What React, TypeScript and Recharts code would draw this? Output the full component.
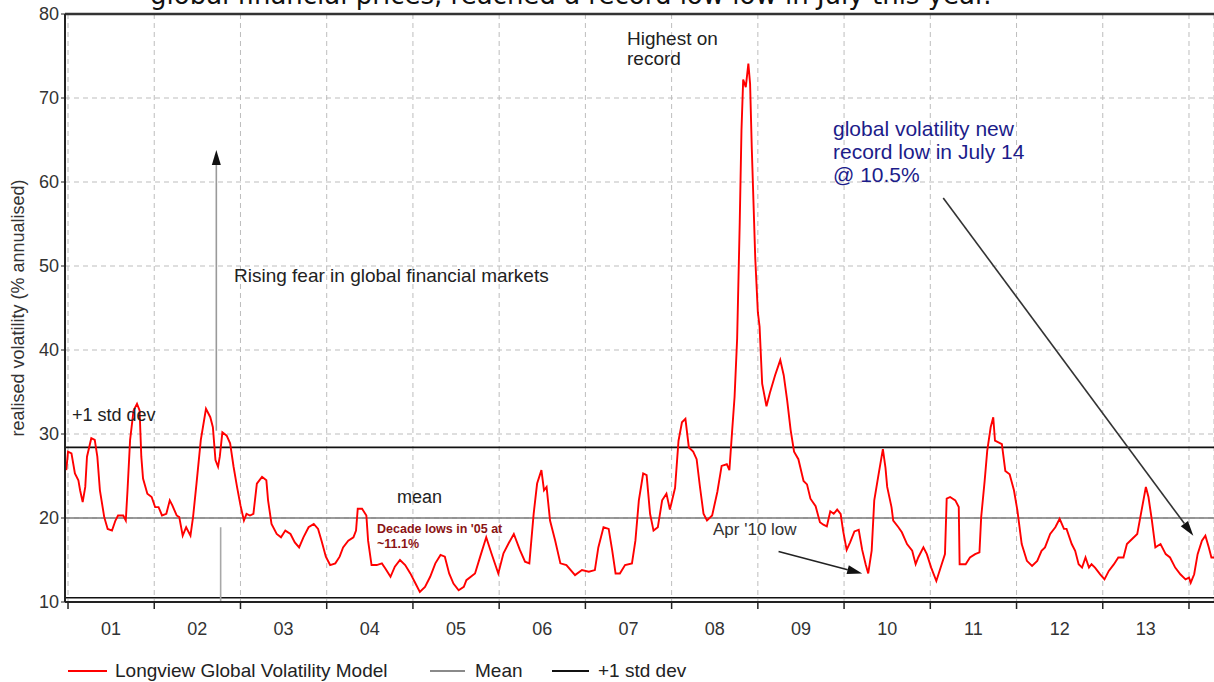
import React from "react";
import { LineChart, Line, XAxis, YAxis, CartesianGrid, ReferenceLine } from "recharts";

// decimal year of each reading
const dates = [
  2000.98, 2001.0, 2001.04, 2001.08, 2001.12, 2001.14, 2001.17, 2001.2, 2001.22, 2001.27, 2001.31, 2001.34,
  2001.37, 2001.42, 2001.46, 2001.51, 2001.55, 2001.58, 2001.64, 2001.67, 2001.69, 2001.72, 2001.76, 2001.8,
  2001.83, 2001.85, 2001.87, 2001.92, 2001.97, 2002.01, 2002.05, 2002.09, 2002.14, 2002.18, 2002.21, 2002.26,
  2002.29, 2002.33, 2002.37, 2002.42, 2002.45, 2002.49, 2002.54, 2002.6, 2002.65, 2002.68, 2002.71, 2002.74,
  2002.76, 2002.79, 2002.84, 2002.88, 2002.92, 2002.96, 2003.0, 2003.04, 2003.07, 2003.11, 2003.15, 2003.19,
  2003.25, 2003.3, 2003.32, 2003.36, 2003.42, 2003.47, 2003.52, 2003.58, 2003.63, 2003.68, 2003.73, 2003.79,
  2003.85, 2003.9, 2003.94, 2003.99, 2004.04, 2004.1, 2004.15, 2004.19, 2004.25, 2004.31, 2004.34, 2004.36,
  2004.41, 2004.46, 2004.48, 2004.52, 2004.58, 2004.64, 2004.68, 2004.74, 2004.79, 2004.85, 2004.91, 2004.97,
  2005.03, 2005.08, 2005.14, 2005.2, 2005.26, 2005.32, 2005.37, 2005.42, 2005.47, 2005.53, 2005.59, 2005.62,
  2005.72, 2005.78, 2005.85, 2005.91, 2005.99, 2006.05, 2006.11, 2006.17, 2006.24, 2006.3, 2006.35, 2006.4,
  2006.44, 2006.49, 2006.52, 2006.55, 2006.59, 2006.65, 2006.71, 2006.78, 2006.88, 2006.96, 2007.04, 2007.11,
  2007.15, 2007.21, 2007.27, 2007.31, 2007.35, 2007.4, 2007.46, 2007.54, 2007.58, 2007.62, 2007.67, 2007.71,
  2007.75, 2007.79, 2007.84, 2007.89, 2007.94, 2007.98, 2008.04, 2008.08, 2008.12, 2008.16, 2008.2, 2008.25,
  2008.29, 2008.33, 2008.37, 2008.41, 2008.47, 2008.53, 2008.58, 2008.64, 2008.67, 2008.7, 2008.73, 2008.76,
  2008.79, 2008.81, 2008.83, 2008.86, 2008.89, 2008.91, 2008.93, 2008.97, 2009.0, 2009.02, 2009.05, 2009.1,
  2009.14, 2009.2, 2009.26, 2009.3, 2009.34, 2009.38, 2009.42, 2009.47, 2009.53, 2009.57, 2009.61, 2009.67,
  2009.72, 2009.76, 2009.8, 2009.84, 2009.88, 2009.92, 2009.96, 2009.99, 2010.03, 2010.07, 2010.12, 2010.17,
  2010.21, 2010.25, 2010.28, 2010.32, 2010.35, 2010.4, 2010.45, 2010.48, 2010.5, 2010.55, 2010.57, 2010.63,
  2010.67, 2010.73, 2010.79, 2010.83, 2010.86, 2010.92, 2010.96, 2011.01, 2011.07, 2011.12, 2011.17, 2011.19,
  2011.23, 2011.29, 2011.33, 2011.34, 2011.41, 2011.46, 2011.52, 2011.57, 2011.59, 2011.63, 2011.66, 2011.7,
  2011.73, 2011.75, 2011.79, 2011.83, 2011.87, 2011.92, 2011.97, 2012.01, 2012.06, 2012.12, 2012.18, 2012.24,
  2012.29, 2012.33, 2012.39, 2012.45, 2012.5, 2012.55, 2012.58, 2012.64, 2012.68, 2012.72, 2012.76, 2012.8,
  2012.84, 2012.87, 2012.91, 2012.97, 2013.02, 2013.07, 2013.13, 2013.18, 2013.24, 2013.28, 2013.34, 2013.4,
  2013.45, 2013.5, 2013.53, 2013.57, 2013.61, 2013.67, 2013.73, 2013.78, 2013.84, 2013.9, 2013.96, 2014.0,
  2014.02, 2014.06, 2014.1, 2014.15, 2014.19, 2014.23, 2014.26, 2014.29,
];

// realised volatility, % annualised
const vol = [
  25.7, 27.9, 27.7, 25.3, 24.5, 23.3, 21.9, 23.7, 27.3, 29.5, 29.3, 27.3,
  23.3, 20.1, 18.7, 18.5, 19.7, 20.3, 20.3, 19.7, 23.3, 29.3, 32.8, 33.6,
  32.8, 27.3, 24.7, 22.9, 22.5, 21.3, 21.3, 20.3, 20.5, 22.1, 21.5, 20.3,
  20.1, 17.9, 18.9, 17.9, 20.1, 24.1, 29.3, 33.0, 32.0, 30.8, 26.9, 26.1,
  27.3, 30.2, 29.8, 28.9, 26.1, 23.7, 21.5, 19.7, 20.5, 20.3, 20.5, 24.1,
  24.9, 24.5, 22.1, 19.3, 18.1, 17.7, 18.5, 18.1, 17.1, 16.5, 17.7, 18.9,
  19.3, 18.7, 17.3, 15.4, 14.4, 14.6, 15.4, 16.5, 17.3, 17.7, 18.5, 21.1,
  21.1, 20.3, 17.3, 14.4, 14.4, 14.6, 14.0, 13.0, 14.2, 15.0, 14.4, 13.4,
  12.2, 11.2, 11.8, 13.0, 14.6, 15.6, 15.4, 13.4, 12.2, 11.4, 11.8, 12.6,
  13.4, 15.4, 17.7, 15.8, 13.4, 15.8, 17.0, 18.1, 16.2, 14.8, 14.6, 20.5,
  24.1, 25.7, 23.3, 23.7, 19.7, 17.3, 14.6, 14.4, 13.2, 13.8, 13.6, 13.8,
  16.5, 18.9, 18.7, 16.2, 13.4, 13.4, 14.4, 14.6, 17.3, 22.1, 25.3, 25.1,
  20.5, 18.5, 18.9, 22.1, 22.9, 21.0, 23.6, 29.2, 31.4, 31.8, 28.4, 27.9,
  27.0, 23.6, 20.5, 19.7, 20.3, 23.1, 26.2, 26.4, 25.7, 30.1, 34.4, 41.4,
  55.2, 66.1, 72.2, 71.3, 74.1, 71.7, 63.9, 50.9, 44.5, 42.8, 36.0, 33.3,
  34.9, 37.0, 38.8, 37.0, 34.0, 30.5, 27.9, 27.0, 24.4, 24.0, 22.3, 21.4,
  19.5, 19.2, 19.0, 20.8, 20.5, 21.0, 20.5, 18.4, 16.2, 17.1, 18.4, 18.6,
  16.2, 14.5, 13.4, 16.1, 22.1, 25.2, 28.2, 26.0, 23.7, 21.3, 19.7, 18.9,
  18.3, 16.9, 16.1, 14.5, 15.3, 16.5, 15.7, 14.1, 12.5, 14.1, 15.7, 22.3,
  22.5, 22.1, 21.3, 14.5, 14.5, 15.3, 15.7, 15.9, 20.1, 24.4, 28.0, 30.8,
  32.0, 29.2, 29.0, 28.8, 25.6, 25.2, 23.3, 20.9, 16.9, 14.9, 14.3, 14.9,
  16.1, 16.5, 18.1, 18.9, 19.9, 18.7, 18.7, 16.9, 16.1, 14.5, 14.1, 15.3,
  14.1, 14.5, 14.1, 13.3, 12.7, 13.7, 14.5, 15.3, 15.3, 16.9, 17.5, 18.1,
  20.9, 23.7, 22.5, 19.7, 16.5, 16.9, 15.7, 15.3, 14.1, 13.3, 12.7, 12.9,
  12.3, 13.3, 15.7, 17.3, 17.9, 16.5, 15.3, 15.3,
];

const yearTicks = [2001, 2002, 2003, 2004, 2005, 2006, 2007, 2008, 2009, 2010, 2011, 2012, 2013, 2014];
const valueTicks = [10, 20, 30, 40, 50, 60, 70, 80];

const MEAN = 20;
const STD_UP = 28.4;
const RECORD_LOW = 10.5;

const X_DOMAIN: [number, number] = [2000.965, 2014.29];
const W = 1214;
const H = 682;
const LEFT = 65;
const HALF_YEAR = (0.5 * (W - LEFT)) / (X_DOMAIN[1] - X_DOMAIN[0]);

const data = dates.map((t, i) => ({ t, v: vol[i] }));

const FONT = "'Liberation Sans', Arial, sans-serif";

const YearTick = (props: any) => {
  const { x, y, payload } = props;
  if (payload.value >= 2014) return <g />;
  const label = String(payload.value % 100).padStart(2, "0");
  return (
    <text x={x + HALF_YEAR} y={y} dy={24} textAnchor="middle" fill="#333" fontSize={18} fontFamily={FONT}>
      {label}
    </text>
  );
};

const arrowShape = (lineColor: string, headColor: string, head = true) => (p: any) => {
  const { x1, y1, x2, y2 } = p;
  const a = Math.atan2(y2 - y1, x2 - x1);
  const L = 15;
  const hw = 4.5;
  const bx = x2 - L * Math.cos(a);
  const by = y2 - L * Math.sin(a);
  const px = -Math.sin(a) * hw;
  const py = Math.cos(a) * hw;
  return (
    <g>
      <line x1={x1} y1={y1} x2={head ? bx : x2} y2={head ? by : y2} stroke={lineColor} strokeWidth={1.6} />
      {head && (
        <polygon points={`${x2},${y2} ${bx + px},${by + py} ${bx - px},${by - py}`} fill={headColor} />
      )}
    </g>
  );
};

export default function App() {
  return (
    <div style={{ position: "absolute", left: 0, top: 0, width: W, height: H, background: "#fff" }}>
      <LineChart width={W} height={H} data={data} margin={{ top: 14, right: 0, bottom: 0, left: 0 }}>
        <CartesianGrid stroke="#bdbdbd" strokeDasharray="5 4" />
        <XAxis
          type="number"
          dataKey="t"
          domain={X_DOMAIN}
          allowDataOverflow
          ticks={yearTicks}
          interval={0}
          height={80}
          tick={<YearTick />}
          tickSize={7}
          tickMargin={2}
          axisLine={{ stroke: "#222", strokeWidth: 2 }}
          tickLine={{ stroke: "#222", strokeWidth: 1.5 }}
        />
        <YAxis
          type="number"
          domain={[10, 80]}
          ticks={valueTicks}
          interval={0}
          width={LEFT}
          tickSize={4}
          tickMargin={2}
          axisLine={{ stroke: "#222", strokeWidth: 2 }}
          tickLine={{ stroke: "#222" }}
          tick={{ fill: "#333", fontSize: 18, fontFamily: FONT }}
        />
        <ReferenceLine y={80} stroke="#333" strokeWidth={2.5} />
        <ReferenceLine y={MEAN} stroke="#7a7a7a" strokeWidth={1.6} />
        <ReferenceLine y={STD_UP} stroke="#111" strokeWidth={1.8} />
        <ReferenceLine y={RECORD_LOW} stroke="#111" strokeWidth={1.6} />
        <ReferenceLine
          segment={[{ x: 2002.72, y: 30.4 }, { x: 2002.72, y: 63.8 }]}
          shape={arrowShape("#9a9a9a", "#111")}
        />
        <ReferenceLine
          segment={[{ x: 2002.77, y: 18.9 }, { x: 2002.77, y: 10.05 }]}
          shape={arrowShape("#a8a8a8", "#a8a8a8", false)}
        />
        <ReferenceLine
          segment={[{ x: 2009.24, y: 16.0 }, { x: 2010.21, y: 13.4 }]}
          shape={arrowShape("#222", "#111")}
        />
        <ReferenceLine
          segment={[{ x: 2011.15, y: 58.1 }, { x: 2014.05, y: 17.9 }]}
          shape={arrowShape("#333", "#111")}
        />
        <Line
          type="linear"
          dataKey="v"
          stroke="#ff0000"
          strokeWidth={1.9}
          dot={false}
          isAnimationActive={false}
        />
      </LineChart>

      <svg
        width={W}
        height={H}
        style={{ position: "absolute", left: 0, top: 0, pointerEvents: "none" }}
        fontFamily={FONT}
      >
        <text x={150} y={4} fontSize={26} fontFamily="'DejaVu Sans', sans-serif" fill="#111">
          global financial prices, reached a record low low in July this year.
        </text>

        <text
          transform="translate(18, 308) rotate(-90)"
          textAnchor="middle"
          dominantBaseline="central"
          fontSize={18}
          fill="#333"
        >
          realised volatility (% annualised)
        </text>

        <text x={627} y={45} fontSize={19} fill="#222">Highest on</text>
        <text x={627} y={65} fontSize={19} fill="#222">record</text>

        <text x={833} y={136} fontSize={21} fill="#1c1c8a">global volatility new</text>
        <text x={833} y={159} fontSize={21} fill="#1c1c8a">record low in July 14</text>
        <text x={833} y={182} fontSize={21} fill="#1c1c8a">@ 10.5%</text>

        <text x={234} y={282} fontSize={19} fill="#222">Rising fear in global financial markets</text>
        <text x={72} y={421} fontSize={18} fill="#222">+1 std dev</text>
        <text x={397} y={503} fontSize={18} fill="#222">mean</text>
        <text x={377} y={533} fontSize={12.5} fontWeight="bold" fill="#8b1414">Decade lows in '05 at</text>
        <text x={377} y={548} fontSize={12.5} fontWeight="bold" fill="#8b1414">~11.1%</text>
        <text x={713} y={535} fontSize={17} fill="#333">Apr '10 low</text>

        <line x1={68} y1={671} x2={107} y2={671} stroke="#ff0000" strokeWidth={2} />
        <text x={115} y={677} fontSize={19} fill="#222">Longview Global Volatility Model</text>
        <line x1={430} y1={671} x2={465} y2={671} stroke="#8a8a8a" strokeWidth={2} />
        <text x={475} y={677} fontSize={19} fill="#222">Mean</text>
        <line x1={552} y1={671} x2={589} y2={671} stroke="#111" strokeWidth={2} />
        <text x={598} y={677} fontSize={19} fill="#222">+1 std dev</text>
      </svg>
    </div>
  );
}
